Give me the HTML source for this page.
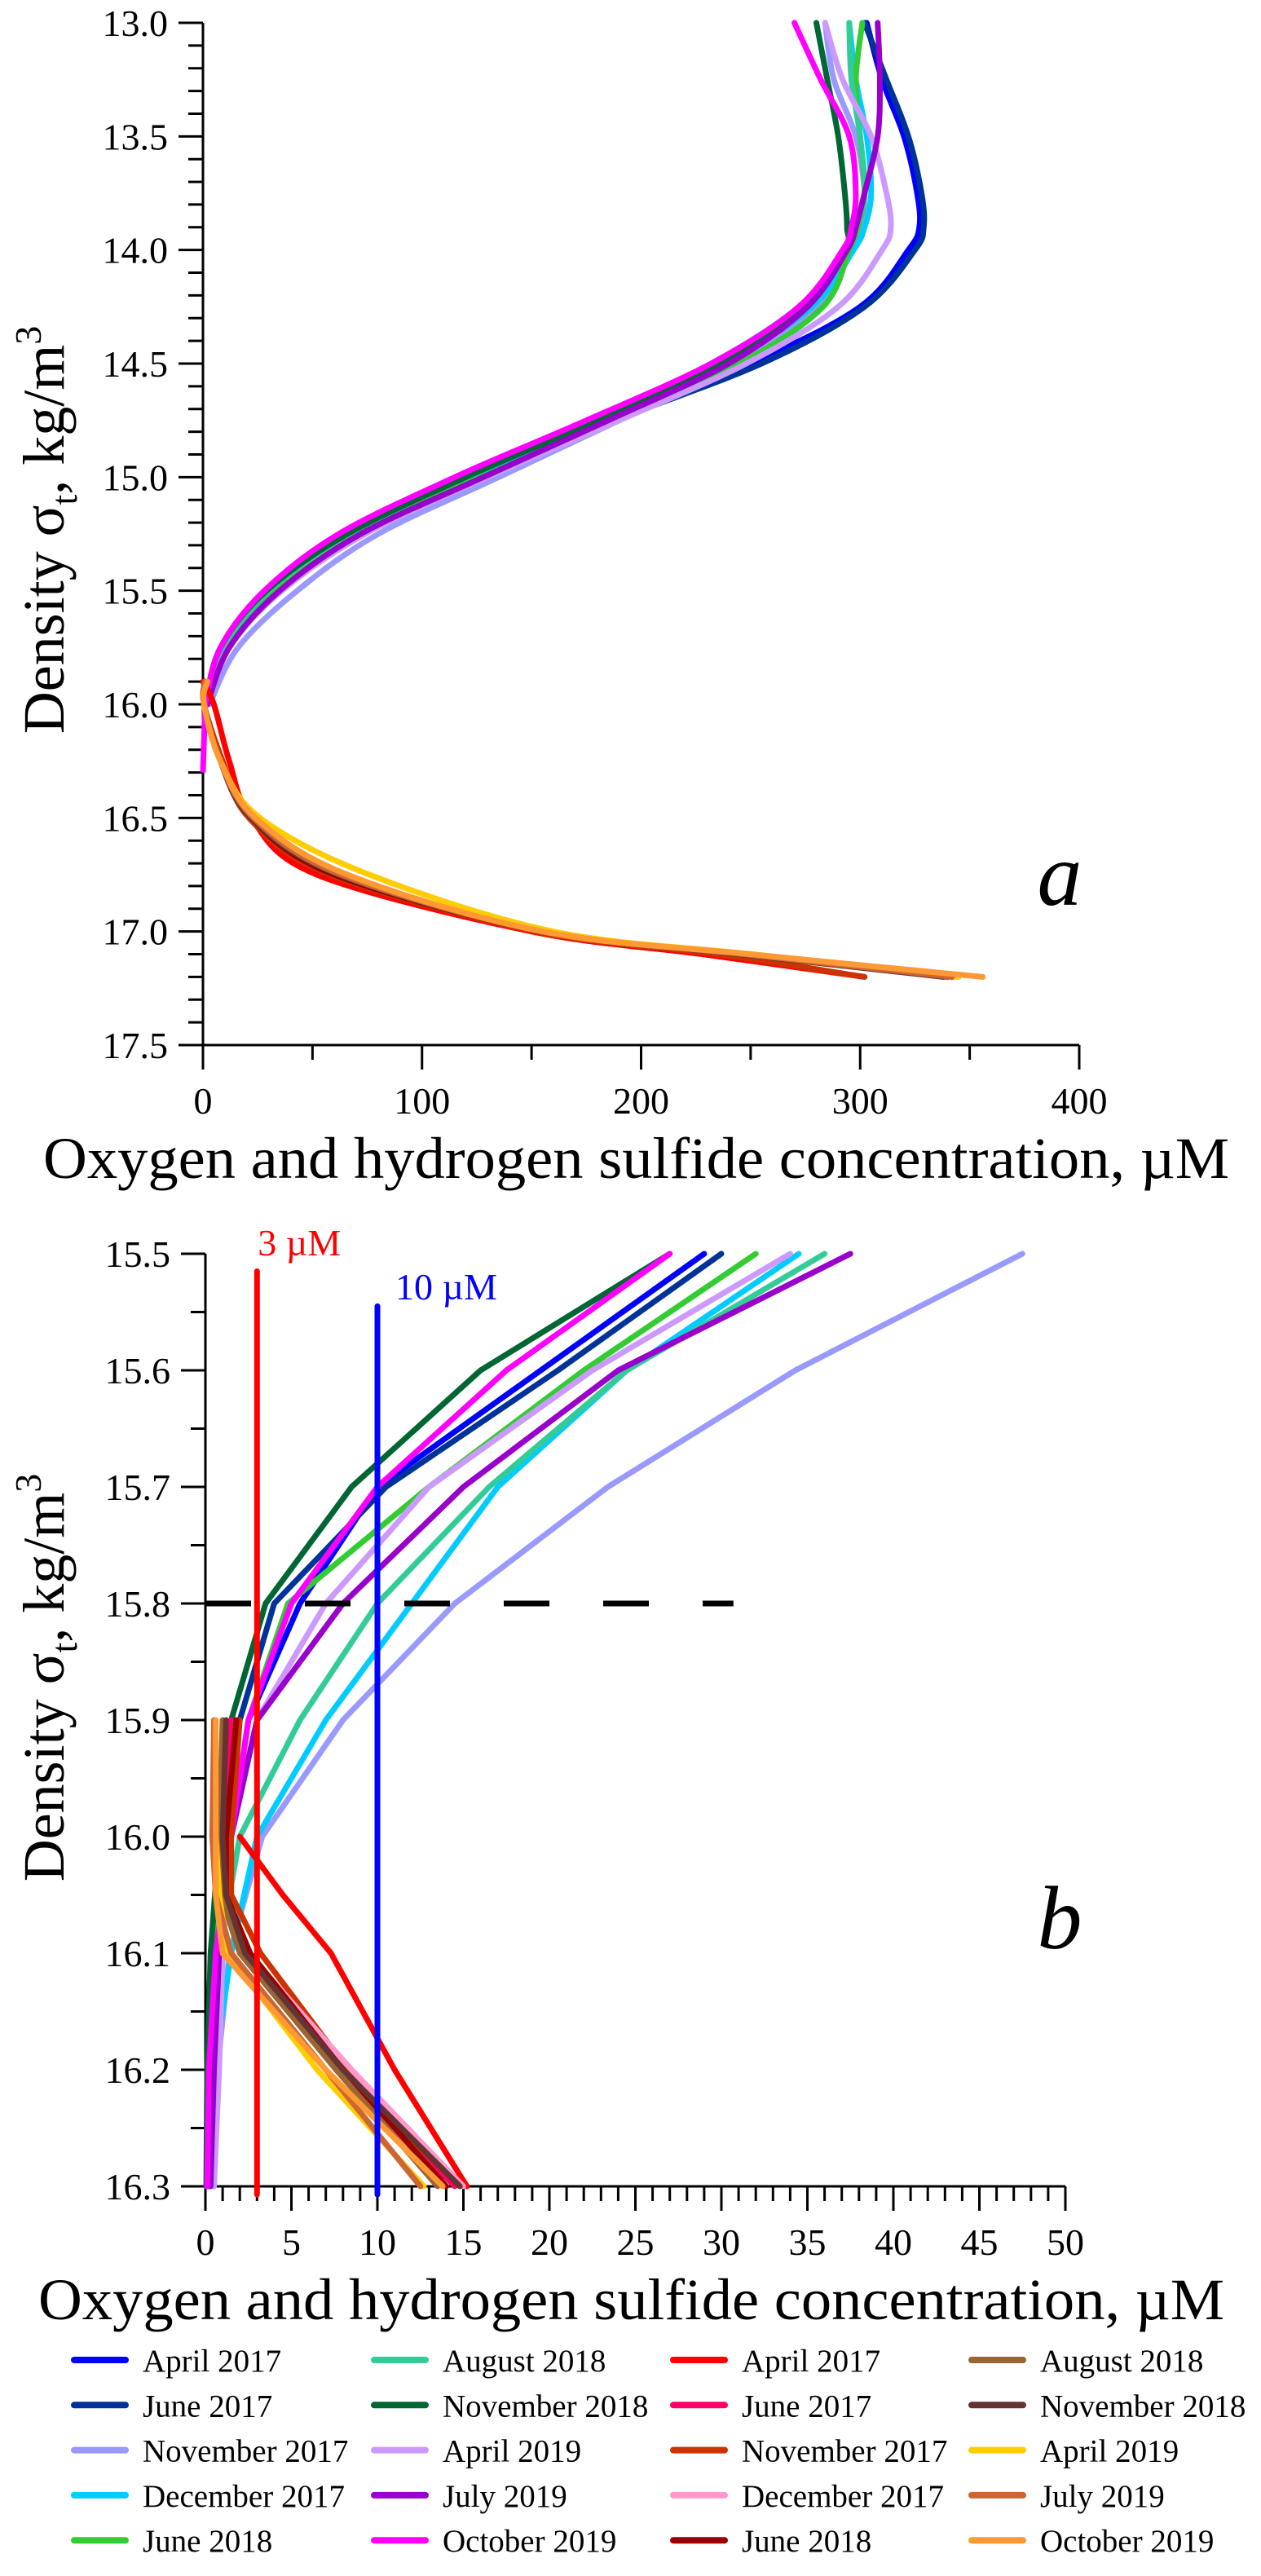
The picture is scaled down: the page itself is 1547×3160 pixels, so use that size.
<!DOCTYPE html>
<html><head><meta charset="utf-8"><style>
html,body{margin:0;padding:0;background:#fff}
svg{display:block}
text{font-family:"Liberation Serif",serif;fill:#000}
</style></head><body>
<svg id="chart" width="1547" height="3160" viewBox="0 0 1547 3160" xmlns="http://www.w3.org/2000/svg"></svg>
<script>
const seriesNames=["April 2017","June 2017","November 2017","December 2017","June 2018","August 2018","November 2018","April 2019","July 2019","October 2019"];
const oxColors=["#0000ff","#003399","#9999ff","#00ccff","#33cc33","#33cc99","#006633","#cc99ff","#9900cc","#ff00ff"];
const h2sColors=["#ff0000","#ff0066","#cc3300","#ff99cc","#990000","#996633","#663333","#ffcc00","#cc6633","#ff9933"];
// panel a
const aOxLevels=[13.0,13.25,13.5,13.75,13.9,14.0,14.25,14.5,14.75,15.0,15.25,15.5,15.75,16.0];
const aOx=[
[303,310,320,326,327,322,300,250,185,125,70,32,10,1],
[302,312,322,328,329,325,302,255,188,127,72,33,11,1],
[284,288,298,302,300,296,280,245,190,135,80,43,16,3],
[295,298,303,305,302,297,278,238,183,125,70,32,10,1],
[301,298,300,302,299,295,283,245,188,127,70,31,9,1],
[295,296,300,302,298,293,272,232,178,120,67,30,9,1],
[280,285,290,293,294,293,274,235,180,120,66,29,8,1],
[284,292,305,312,314,310,290,248,190,130,74,36,12,2],
[308,309,308,302,298,294,276,240,185,128,72,35,12,2],
[270,282,295,298,296,292,272,232,175,115,62,28,8,1]];
const aH2sLevels=[15.9,16.0,16.25,16.5,16.75,17.0,17.1,17.2];
const aH2s=[
[0,5,12,22,52,150,228,302],
[1,0.5,8,22,62,155,245,342],
[1,0.5,9,21,58,152,235,302],
[1,0.5,8,22,62,155,245,344],
[1,0.5,8,22,60,155,245,340],
[1,0.5,8,23,63,156,246,342],
[1,0.5,8,22,62,155,245,338],
[1,0.5,8,26,76,160,250,345],
[1,0.5,8,23,63,155,247,342],
[2,0.5,8,24,66,155,250,356]];
const aTicksY=["13.0","13.5","14.0","14.5","15.0","15.5","16.0","16.5","17.0","17.5"];
const aTicksX=["0","100","200","300","400"];
// panel b
const bOxLevels=[15.5,15.6,15.7,15.8,15.9,16.0,16.1,16.2,16.3];
const bOx=[
[29,19.5,10,5.5,2.5,1.5,0.8,0.3,0.2],
[30,20.5,10.5,4,2,1,0.5,0.2,0.1],
[47.5,34.3,23.4,14.5,8,3.3,1.4,0.7,0.5],
[34.5,24.5,17,12,7,3,1.5,0.5,0.3],
[32,22,13,4.8,2.5,1.5,0.5,0.2,0.1],
[36,24.5,16.5,10,5.5,2,0.8,0.3,0.1],
[27,16,8.5,3.5,1.5,0.8,0.3,0.1,0.05],
[34,22.5,13,7,3,1.5,1,0.8,0.5],
[37.5,24,15,8,3,1.5,0.8,0.5,0.3],
[27,17.5,10,5,2.5,1.5,0.6,0.2,0.1]];
const bH2sLevels=[15.9,16.0,16.05,16.1,16.2,16.3];
const bH2s=[
[null,2,4.5,7.3,11,15.2],
[1.5,1,1.2,2.5,8,14.5],
[2,1.5,1.5,3.2,8.3,14],
[1,0.8,1,2.5,8.5,15],
[1.8,1.2,1.2,2.6,8,14],
[1,0.8,0.9,2,7.6,13.5],
[1.2,1,1.2,2.3,8,14.8],
[0.5,0.6,0.8,1.3,6.5,12.7],
[0.5,0.4,0.6,1.5,7,12.5],
[0.6,0.6,0.6,1,7,13.8]];
const bTicksY=["15.5","15.6","15.7","15.8","15.9","16.0","16.1","16.2","16.3"];
const bTicksX=["0","5","10","15","20","25","30","35","40","45","50"];
const refLines=[3,10];
const dashLevel=15.8;

const svg=document.getElementById('chart');
const NS='http://www.w3.org/2000/svg';
function mk(tag,attrs,parent){const e=document.createElementNS(NS,tag);for(const k in attrs)e.setAttribute(k,attrs[k]);(parent||svg).appendChild(e);return e;}
function smooth(p){let d='M'+p[0][0]+','+p[0][1];for(let i=0;i<p.length-1;i++){const p0=p[i-1]||p[i],p1=p[i],p2=p[i+1],p3=p[i+2]||p2;
d+=' C'+(p1[0]+(p2[0]-p0[0])/6)+','+(p1[1]+(p2[1]-p0[1])/6)+' '+(p2[0]-(p3[0]-p1[0])/6)+','+(p2[1]-(p3[1]-p1[1])/6)+' '+p2[0]+','+p2[1];}return d;}
function poly(p){return 'M'+p.map(q=>q[0]+','+q[1]).join(' L');}

function panel(cfg){
  const g=mk('g',{});
  
  
  const X=v=>cfg.x0+(v-cfg.xmin)/(cfg.xmax-cfg.xmin)*(cfg.x1-cfg.x0);
  const Y=v=>cfg.y0+(v-cfg.ymin)/(cfg.ymax-cfg.ymin)*(cfg.y1-cfg.y0);
  const ax=mk('path',{d:`M${cfg.x0},${cfg.y0} L${cfg.x0},${cfg.y1} L${cfg.x1},${cfg.y1}`,stroke:'#000','stroke-width':3,fill:'none'},g);
  
  const ny=Math.round((cfg.ymax-cfg.ymin)/cfg.yMinor);
  for(let i=0;i<=ny;i++){const v=cfg.ymin+i*cfg.yMinor;const r=(v-cfg.ymin)/cfg.yMajor;const major=Math.abs(r-Math.round(r))<1e-6;
    const t=mk('line',{x1:cfg.x0-(major?30:18),x2:cfg.x0,y1:Y(v),y2:Y(v),stroke:'#000','stroke-width':3},g);
    }
  cfg.ticksY.forEach(s=>{const t=mk('text',{x:cfg.x0-43,y:Y(parseFloat(s))+16,'font-size':46,'text-anchor':'end'},g);t.textContent=s;
    });
  const nx=Math.round((cfg.xmax-cfg.xmin)/cfg.xMinor);
  for(let i=0;i<=nx;i++){const v=cfg.xmin+i*cfg.xMinor;const r=v/cfg.xMajor;const major=Math.abs(r-Math.round(r))<1e-6;
    const t=mk('line',{x1:X(v),x2:X(v),y1:cfg.y1,y2:cfg.y1+(major?30:18),stroke:'#000','stroke-width':3},g);
    }
  cfg.ticksX.forEach(s=>{const t=mk('text',{x:X(parseFloat(s)),y:cfg.y1+84,'font-size':46,'text-anchor':'middle'},g);t.textContent=s;
    });
  const xt=mk('text',{x:cfg.titleX,y:cfg.y1+163,'font-size':72,textLength:1455,lengthAdjust:'spacingAndGlyphs'},g);
  xt.textContent='Oxygen and hydrogen sulfide concentration, µM';
  
  const yt=mk('text',{transform:`translate(78,${cfg.ytc}) rotate(-90)`,'font-size':72,'text-anchor':'middle'},g);
  yt.innerHTML='Density σ<tspan font-size="46" dy="16">t</tspan><tspan dy="-16">, kg/m</tspan><tspan font-size="46" dy="-28">3</tspan>';
  
  const lab=mk('text',{x:cfg.labX,y:cfg.labY,'font-size':110,'font-style':'italic','text-anchor':'middle'},g);
  lab.textContent=cfg.label;
  return {g,X,Y};
}

function drawSeries(P,levels,data,colors,curve,kind){
  data.forEach((vals,i)=>{const pts=[];vals.forEach((v,j)=>{if(v!==null)pts.push([P.X(v),P.Y(levels[j])]);});
    const p=mk('path',{d:curve?smooth(pts):poly(pts),stroke:colors[i],'stroke-width':7,fill:'none','stroke-linejoin':'round','stroke-linecap':'round'},P.g);
    
    });
}

// Panel a
const A=panel({name:'panel-a',x0:249,x1:1324,y0:28,y1:1282,xmin:0,xmax:400,ymin:13,ymax:17.5,yMinor:0.1,yMajor:0.5,xMinor:50,xMajor:100,
  ticksY:aTicksY,ticksX:aTicksX,ytc:650,label:'a',labX:1300,labY:1110,titleX:53});
drawSeries(A,aOxLevels,aOx,oxColors,true,'oxygen-a');
{const p=mk('path',{d:`M${A.X(1)},${A.Y(16.0)} L${A.X(0)},${A.Y(16.3)}`,stroke:'#ff00ff','stroke-width':7,fill:'none'},A.g);
 }
drawSeries(A,aH2sLevels,aH2s,h2sColors,true,'h2s-a');

// Panel b
const B=panel({name:'panel-b',x0:252,x1:1307,y0:1538,y1:2682,xmin:0,xmax:50,ymin:15.5,ymax:16.3,yMinor:0.05,yMajor:0.1,xMinor:1,xMajor:5,
  ticksY:bTicksY,ticksX:bTicksX,ytc:2058,label:'b',labX:1300,labY:2390,titleX:47});
drawSeries(B,bOxLevels,bOx,oxColors,false,'oxygen-b');
drawSeries(B,bH2sLevels,bH2s,h2sColors,false,'h2s-b');
const refCols=['#ff0000','#0000ff'],refTop=[15.515,15.545],refLabY=[1540,1594],refLabDx=[1,22];
refLines.forEach((v,i)=>{const l=mk('line',{x1:B.X(v),x2:B.X(v),y1:B.Y(refTop[i]),y2:B.Y(16.3)+10,stroke:refCols[i],'stroke-width':7,'stroke-linecap':'round'},B.g);
  
  const t=mk('text',{x:B.X(v)+refLabDx[i],y:refLabY[i],'font-size':46},B.g);t.textContent=v+' µM';t.style.fill=refCols[i];
  });
{const l=mk('line',{x1:B.X(0),x2:B.X(30.7),y1:B.Y(dashLevel),y2:B.Y(dashLevel),stroke:'#000','stroke-width':7,'stroke-dasharray':'56 66'},B.g);
 }

// Legend
const leg=mk('g',{});

const colX=[87,455,822,1188];
const allCols=[oxColors.slice(0,5),oxColors.slice(5),h2sColors.slice(0,5),h2sColors.slice(5)];
const allNames=[seriesNames.slice(0,5),seriesNames.slice(5),seriesNames.slice(0,5),seriesNames.slice(5)];
for(let c=0;c<4;c++)for(let r=0;r<5;r++){const y=2895+r*55.3;
  const e=mk('g',{},leg);
  const l=mk('line',{x1:colX[c]+4,x2:colX[c]+67,y1:y,y2:y,stroke:allCols[c][r],'stroke-width':8,'stroke-linecap':'round'},e);
  
  const t=mk('text',{x:colX[c]+88,y:y+14,'font-size':39},e);t.textContent=allNames[c][r];
  }
</script>
</body></html>
